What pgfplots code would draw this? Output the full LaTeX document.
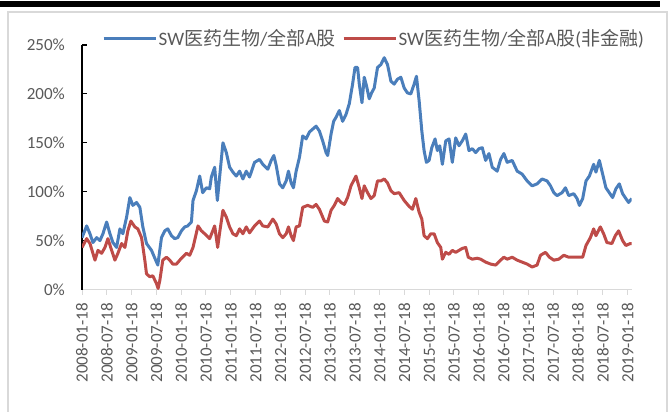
\documentclass[border=0pt]{standalone}
\usepackage{fontspec}
\setmainfont{Carlito}
\newfontfamily\cjk{Noto Sans CJK SC}
\usepackage{pgfplots}
\pgfplotsset{compat=1.18}
\definecolor{sblue}{HTML}{4A7EBB}
\definecolor{sred}{HTML}{BE4B48}
\definecolor{tgray}{HTML}{595959}
\definecolor{agray}{HTML}{D9D9D9}
\definecolor{fgray}{HTML}{D9D9D9}

\pgfplotstableread{
m v
0 53
1.13 65
1.93 57
2.65 48
3.55 53
4.34 50
5.07 57
5.96 69
6.76 57
7.48 48
8.37 43
9.17 62
9.89 57
10.79 74
11.58 94
12.31 86
13.2 89
14.0 84
14.72 64
15.61 47
16.82 40
17.62 32
18.34 25
19.23 53
20.03 60
20.75 62
21.65 55
22.44 52
23.17 53
24.06 60
24.86 64
25.58 65
26.47 69
26.86 91
27.68 101
28.48 116
29.2 99
30.09 104
30.89 103
31.3 115
32.1 125
32.75 91
33.3 115
34.1 150
34.92 140
35.72 125
36.51 120
37.33 116
38.13 121
38.93 113
39.74 121
40.54 115
41.75 130
42.95 133
43.75 128
44.96 123
45.78 132
46.41 137
46.98 127
47.78 108
48.58 104
49.4 111
49.95 121
50.6 109
51.16 104
51.81 121
52.61 135
53.4 157
54.23 154
55.02 161
55.82 164
56.64 167
57.44 162
58.23 152
59.05 140
59.44 137
60.26 159
60.89 172
61.46 176
62.26 183
63.06 172
63.88 179
64.67 190
65.47 210
66.05 227
66.68 227
67.09 210
67.74 191
68.29 217
68.85 208
69.5 195
70.06 201
70.7 206
71.5 227
72.32 230
73.12 237
73.92 230
74.74 213
75.53 210
76.33 215
77.15 217
77.95 206
78.74 201
79.56 200
80.36 210
80.92 218
81.57 193
82.22 162
82.77 142
83.33 130
83.98 132
84.63 145
85.43 154
85.98 142
86.56 147
87.19 128
88.01 152
88.81 154
89.6 130
90.42 155
91.22 147
92.01 152
92.84 159
93.63 142
94.43 144
95.25 140
96.05 144
96.84 145
97.66 132
98.46 139
99.26 125
100.46 121
101.28 133
102.08 139
102.87 130
104.08 132
105.29 121
106.49 118
107.7 111
108.91 106
110.11 108
111.32 113
112.53 111
113.35 106
114.15 99
114.94 96
116.15 99
116.97 104
117.77 96
118.97 98
119.77 93
120.35 86
121.14 93
121.94 111
122.76 116
123.8 128
124.35 120
125.17 132
125.97 118
126.76 104
127.58 99
128.38 94
129.18 103
130.0 108
130.8 98
131.59 93
132.24 89
133 93
}\blueseries

\pgfplotstableread{
m v
0 43
1.13 52
1.93 47
3.14 30
3.86 40
4.75 37
5.55 43
6.27 52
7.17 40
7.96 30
8.69 37
9.58 47
10.38 43
11.1 60
11.82 70
12.79 64
13.51 62
14.41 53
15.2 30
15.61 16
16.41 13
17.13 14
18.03 6
18.41 1
18.82 9
19.55 30
20.44 33
21.24 30
21.96 26
22.85 26
24.06 32
25.27 37
26.06 35
26.86 43
28.07 65
28.89 60
29.68 57
30.89 52
32.1 65
32.82 43
33.3 58
34.1 81
34.92 74
35.72 64
36.51 57
37.33 55
38.13 62
38.93 57
39.74 64
40.54 58
41.75 65
42.95 70
43.75 65
44.96 64
46.17 72
46.98 67
47.78 57
48.58 53
49.4 57
49.95 64
50.6 55
51.16 50
51.81 64
52.61 65
53.4 84
54.6 86
55.82 84
56.64 87
57.44 82
58.64 70
59.44 69
60.26 81
61.05 86
61.85 93
62.67 89
63.47 87
64.26 94
65.08 106
66.29 116
67.09 104
67.74 93
68.29 106
69.09 99
69.91 93
70.7 96
71.5 111
72.32 111
73.12 113
73.92 109
74.74 101
75.53 98
76.74 99
77.95 91
79.15 85
79.95 82
80.76 93
81.57 79
82.22 72
82.77 55
83.57 52
84.39 57
85.19 57
85.98 48
86.8 43
87.19 31
88.01 38
88.81 36
89.6 40
90.42 38
91.22 40
92.01 42
92.84 43
93.46 33
94.43 31
95.63 32
96.45 31
97.66 28
98.87 26
100.07 25
101.28 30
102.08 33
102.87 31
104.08 33
105.29 30
106.49 28
107.7 26
108.91 23
110.11 25
110.93 35
112.14 38
113.1 33
114.15 30
115.35 31
116.56 35
117.77 33
118.97 33
120.18 33
121.14 33
121.94 45
123.0 53
123.8 62
124.35 55
125.41 64
126.21 57
127.0 48
128.21 47
129.03 55
129.83 60
130.8 50
131.59 45
132.65 47
133 47
}\redseries

\begin{document}
\begin{tikzpicture}
\begin{axis}[
  at={(82bp,122.5bp)}, anchor=south west,
  scale only axis, width=549.7bp, height=244.5bp,
  xmin=0, xmax=133, ymin=0, ymax=250,
  axis lines=left, axis line style={-},
  x axis line style={agray, line width=1bp},
  y axis line style={black, line width=1.2bp},
  tick align=inside,
  major tick length=5bp,
  xtick={0,6,...,132},
  xticklabels={2008-01-18,2008-07-18,2009-01-18,2009-07-18,2010-01-18,2010-07-18,2011-01-18,2011-07-18,2012-01-18,2012-07-18,2013-01-18,2013-07-18,2014-01-18,2014-07-18,2015-01-18,2015-07-18,2016-01-18,2016-07-18,2017-01-18,2017-07-18,2018-01-18,2018-07-18,2019-01-18},
  ytick={0,50,...,250},
  yticklabel={\pgfmathprintnumber{\tick}\%},
  /pgf/number format/assume math mode=true,
  x tick style={agray, line width=1bp, yshift=-5bp},
  y tick style={black, line width=1.2bp},
  xticklabel style={rotate=90, anchor=east, inner sep=0pt, text=tgray, font=\fontsize{17bp}{20bp}\selectfont},
  yticklabel style={anchor=east, inner sep=0pt, text=tgray, font=\fontsize{17bp}{20bp}\selectfont},
  xticklabel shift=13.5bp,
  yticklabel shift=17bp,
  legend columns=2,
  legend cell align=left,
  legend image code/.code={\draw[#1] (0bp,0bp) -- (52bp,0bp);},
  legend style={draw=none, fill=none, at={(0.0364,1.0286)}, anchor=west, inner sep=0pt,
    text=tgray, font=\fontsize{19bp}{22bp}\selectfont,
    nodes={inner sep=1.5bp},
    /tikz/every even column/.append style={column sep=5bp}},
]
\addplot[sblue, line width=3bp, line join=round] table[x=m, y=v] {\blueseries};
\addlegendentry{SW{\cjk 医药生物}/{\cjk 全部}A{\cjk 股}}
\addplot[sred, line width=3bp, line join=round] table[x=m, y=v] {\redseries};
\addlegendentry{SW{\cjk 医药生物}/{\cjk 全部}A{\cjk 股}({\cjk 非金融})}
\end{axis}
\fill[black] (0bp,405bp) rectangle (660bp,411bp);
\draw[fgray, line width=1.2bp] (8bp,-2bp) -- (8bp,400bp) -- (667bp,400bp) -- (667bp,-2bp);
\pgfresetboundingbox
\path[use as bounding box] (0bp,0bp) rectangle (668bp,412bp);
\end{tikzpicture}
\end{document}
